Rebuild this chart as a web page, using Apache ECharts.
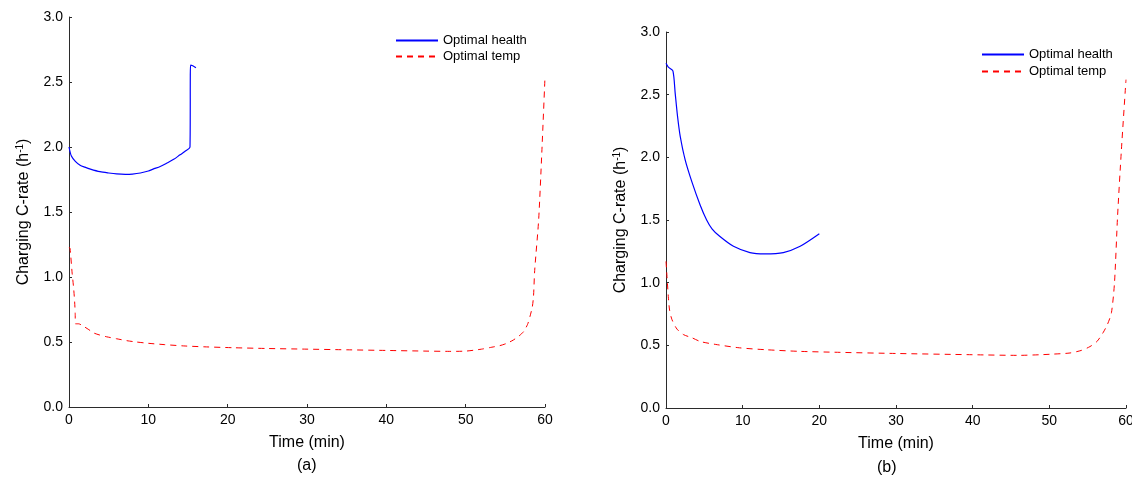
<!DOCTYPE html>
<html>
<head>
<meta charset="utf-8">
<script src="https://cdn.jsdelivr.net/npm/echarts@6/dist/echarts.min.js"></script>
<style>
html,body{margin:0;padding:0;background:#fff;}
#chart{width:1132px;height:486px;}
</style>
</head>
<body>
<div id="chart"></div>
<script>
// ---- data (time in min, C-rate in 1/h) ----
var xTicks = [0, 10, 20, 30, 40, 50, 60];
var yTicks = [0.0, 0.5, 1.0, 1.5, 2.0, 2.5, 3.0];
var seriesNames = ['Optimal health', 'Optimal temp'];
var panelLabels = ['(a)', '(b)'];

// panel (a)
var aHealthT = [0, 0.3, 0.8, 1.4, 2.0, 2.7, 3.9, 5.0, 6.0, 7.1, 8.0, 9.0, 10.0, 10.6, 11.5, 12.3, 13.2, 14.0, 14.6, 15.25, 15.32, 15.6, 16.0];
var aHealthC = [2.0, 1.93, 1.89, 1.86, 1.845, 1.83, 1.81, 1.80, 1.793, 1.79, 1.792, 1.80, 1.815, 1.83, 1.85, 1.875, 1.905, 1.94, 1.965, 2.0, 2.63, 2.625, 2.61];
var aTempT = [0, 0.13, 0.38, 0.59, 0.71, 0.78, 0.8, 1.2, 1.85, 2.5, 3.1, 3.8, 4.75, 6.0, 7.3, 8.5, 10, 12, 14.4, 17, 20.7, 25, 30, 35, 40, 45, 48, 50, 52, 53.3, 54.3, 55.2, 56.0, 56.7, 57.3, 57.8, 58.1, 58.4, 58.55, 58.7, 59.2, 59.6, 60];
var aTempC = [1.23, 1.22, 1.04, 0.91, 0.81, 0.72, 0.64, 0.64, 0.62, 0.595, 0.57, 0.555, 0.54, 0.525, 0.51, 0.50, 0.49, 0.48, 0.47, 0.463, 0.456, 0.45, 0.445, 0.44, 0.435, 0.43, 0.428, 0.43, 0.445, 0.46, 0.472, 0.49, 0.515, 0.545, 0.58, 0.635, 0.695, 0.77, 0.85, 1.05, 1.44, 1.96, 2.54];

// panel (b)
var bHealthT = [0, 0.3, 0.9, 1.2, 1.5, 1.85, 2.5, 3.4, 4.45, 5.3, 6.0, 7.0, 8.8, 10.95, 12.9, 15.3, 17.5, 20.0];
var bHealthC = [2.75, 2.72, 2.69, 2.51, 2.33, 2.17, 1.98, 1.80, 1.62, 1.50, 1.43, 1.37, 1.29, 1.24, 1.23, 1.24, 1.29, 1.39];
var bTempT = [0, 0.13, 0.3, 0.47, 0.78, 1.43, 2.3, 3.4, 4.5, 6.7, 9.6, 13.0, 17.4, 22.7, 30, 40, 46, 48.8, 50.5, 52.7, 54.2, 55.3, 56.2, 57.0, 57.6, 58.1, 58.5, 58.9, 59.4, 60];
var bTempC = [1.17, 1.05, 0.89, 0.78, 0.705, 0.63, 0.585, 0.56, 0.53, 0.505, 0.48, 0.465, 0.452, 0.444, 0.435, 0.425, 0.42, 0.425, 0.43, 0.439, 0.46, 0.49, 0.53, 0.60, 0.67, 0.76, 1.0, 1.53, 2.06, 2.62];

function pairs(t, c) { return t.map(function (v, i) { return [v, c[i]]; }); }

var FONT = 'Liberation Sans, Arial, sans-serif';
var AX = '#2b2b2b';

function xAxis(gi) {
  return {
    type: 'value', gridIndex: gi, min: xTicks[0], max: xTicks[xTicks.length - 1], interval: xTicks[1] - xTicks[0],
    name: 'Time (min)', nameLocation: 'middle', nameGap: 28,
    nameTextStyle: { fontFamily: FONT, fontSize: 16, color: '#000' },
    axisLine: { show: true, lineStyle: { color: AX, width: 1 } },
    axisTick: { show: true, inside: true, length: 3, lineStyle: { color: AX } },
    axisLabel: { fontFamily: FONT, fontSize: 14, color: '#000', margin: 6, hideOverlap: false, showMaxLabel: true },
    splitLine: { show: false }
  };
}
function yAxis(gi) {
  return {
    type: 'value', gridIndex: gi, min: yTicks[0], max: yTicks[yTicks.length - 1], interval: yTicks[1] - yTicks[0],
    name: '{n|Charging C-rate (h}{s|-1}{n|)}', nameLocation: 'middle', nameGap: 36,
    nameTextStyle: {
      fontFamily: FONT, fontSize: 16, color: '#000',
      rich: {
        n: { fontFamily: FONT, fontSize: 16, color: '#000', lineHeight: 18 },
        s: { fontFamily: FONT, fontSize: 10, color: '#000', lineHeight: 10, verticalAlign: 'top' }
      }
    },
    axisLine: { show: true, lineStyle: { color: AX, width: 1 } },
    axisTick: { show: true, inside: true, length: 3, lineStyle: { color: AX } },
    axisLabel: { fontFamily: FONT, fontSize: 14, color: '#000', margin: 6, formatter: function (v) { return v.toFixed(1); } },
    splitLine: { show: false }
  };
}
function healthSeries(gi, t, c) {
  return { name: seriesNames[0], type: 'line', xAxisIndex: gi, yAxisIndex: gi, data: pairs(t, c), showSymbol: false, symbol: 'none',
    smooth: 0.25,
    lineStyle: { color: '#0000ff', width: 1.2 }, itemStyle: { color: '#0000ff' }, animation: false };
}
function tempSeries(gi, t, c) {
  return { name: seriesNames[1], type: 'line', xAxisIndex: gi, yAxisIndex: gi, data: pairs(t, c), showSymbol: false, symbol: 'none',
    smooth: 0.25,
    lineStyle: { color: '#ff0000', width: 1, type: [6, 5] }, itemStyle: { color: '#ff0000' }, animation: false };
}
function legend(left, top, gap) {
  return { orient: 'vertical', left: left, top: top, padding: 0, itemWidth: 42, itemHeight: 14, itemGap: gap,
    data: seriesNames, itemStyle: { opacity: 0 }, textStyle: { fontFamily: FONT, fontSize: 13, color: '#000' }, selectedMode: false };
}

var chart = echarts.init(document.getElementById('chart'), null, { renderer: 'canvas' });
chart.setOption({
  backgroundColor: '#fff',
  animation: false,
  grid: [
    { left: 69, top: 17, width: 476, height: 390, containLabel: false, outerBoundsMode: 'none' },
    { left: 666, top: 32, width: 460, height: 376, containLabel: false, outerBoundsMode: 'none' }
  ],
  xAxis: [xAxis(0), xAxis(1)],
  yAxis: [yAxis(0), yAxis(1)],
  legend: [legend(395, 34, 3), legend(981, 48, 4)],
  series: [
    healthSeries(0, aHealthT, aHealthC),
    tempSeries(0, aTempT, aTempC),
    healthSeries(1, bHealthT, bHealthC),
    tempSeries(1, bTempT, bTempC)
  ],
  graphic: [
    { type: 'text', left: 297, top: 458, style: { text: panelLabels[0], font: '16px ' + FONT, fill: '#000' } },
    { type: 'text', left: 877, top: 460, style: { text: panelLabels[1], font: '16px ' + FONT, fill: '#000' } }
  ]
});
</script>
</body>
</html>
